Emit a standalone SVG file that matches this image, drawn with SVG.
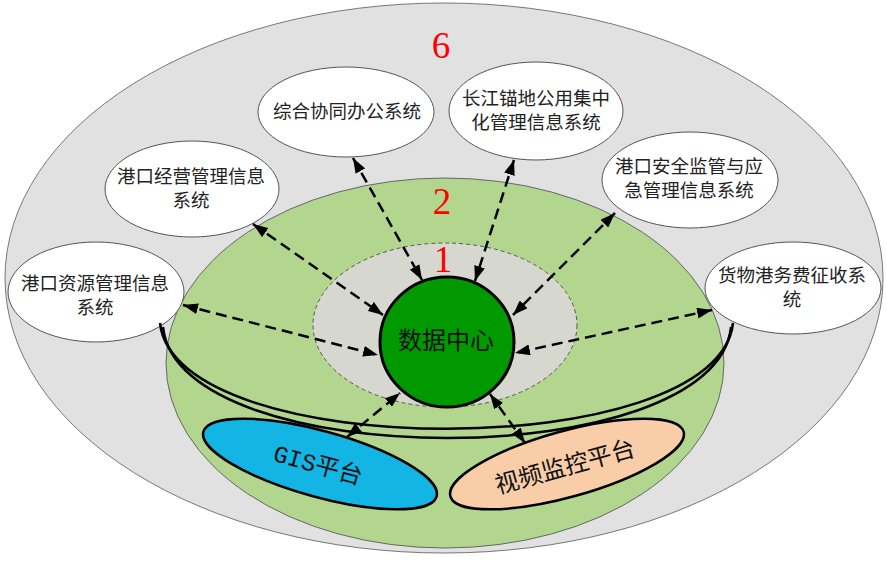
<svg xmlns="http://www.w3.org/2000/svg" width="887" height="568" viewBox="0 0 887 568">
<defs>
<marker id="ah" markerUnits="userSpaceOnUse" markerWidth="15" markerHeight="11" refX="15" refY="5.5" orient="auto-start-reverse" viewBox="0 0 15 11">
<path d="M0,0 L15,5.5 L0,11 z" fill="#000"/>
</marker>
</defs>
<style>
.node{fill:#fff;stroke:#555;stroke-width:1}
.nt{font-family:"Noto Sans CJK SC","Liberation Serif",serif;font-size:18.5px;fill:#222;text-anchor:middle}
.num{font-family:"Liberation Serif",serif;font-size:37px;fill:#ff0000;text-anchor:middle}
.conn{stroke:#000;stroke-width:2.5;stroke-dasharray:11 6;fill:none;marker-start:url(#ah);marker-end:url(#ah)}
.arc{fill:none;stroke:#000;stroke-width:2.5}
</style>
<g id="layer6">
<ellipse cx="444" cy="278" rx="439" ry="275" fill="#e1e1e1" stroke="#777" stroke-width="1"/>
<text class="num" x="441" y="58">6</text>
</g>
<g id="layer2">
<ellipse cx="445" cy="363" rx="279" ry="185" fill="#b3d68f" stroke="#666" stroke-width="1"/>
<text class="num" x="442" y="214">2</text>
</g>
<g id="layer1">
<ellipse cx="445" cy="325" rx="132" ry="82" fill="#d6d8d0" stroke="#555" stroke-width="1" stroke-dasharray="4 3"/>
<text class="num" x="443" y="272">1</text>
</g>
<g id="node-resource">
<ellipse class="node" cx="96" cy="292" rx="88" ry="50"/>
<text class="nt" x="95" y="290">港口资源管理信息</text>
<text class="nt" x="95" y="314">系统</text>
</g>
<g id="node-operation">
<ellipse class="node" cx="192" cy="189" rx="87" ry="48"/>
<text class="nt" x="191" y="183">港口经营管理信息</text>
<text class="nt" x="191" y="207">系统</text>
</g>
<g id="node-office">
<ellipse class="node" cx="346" cy="112" rx="88" ry="45"/>
<text class="nt" x="347" y="118">综合协同办公系统</text>
</g>
<g id="node-anchorage">
<ellipse class="node" cx="536" cy="111" rx="87" ry="49"/>
<text class="nt" x="536" y="105">长江锚地公用集中</text>
<text class="nt" x="536" y="129">化管理信息系统</text>
</g>
<g id="node-safety">
<ellipse class="node" cx="690" cy="180" rx="88" ry="48"/>
<text class="nt" x="689" y="173">港口安全监管与应</text>
<text class="nt" x="689" y="197">急管理信息系统</text>
</g>
<g id="node-fee">
<ellipse class="node" cx="793" cy="288" rx="88" ry="46"/>
<text class="nt" x="792" y="282">货物港务费征收系</text>
<text class="nt" x="792" y="306">统</text>
</g>
<g id="bus">
<path class="arc" d="M160,323 C175,464 718,464 733,323"/>
<path class="arc" d="M163,327 C178,475 716,475 731,327"/>
</g>
<g id="node-gis">
<ellipse cx="0" cy="0" rx="121" ry="33" transform="translate(320,464) rotate(15.5)" fill="#13b5e4" stroke="#000" stroke-width="2.5"/>
<text x="0" y="8" transform="translate(318,465) rotate(15.5)" style="font-family:'Liberation Mono','Noto Sans CJK SC',monospace;font-size:24px;fill:#111;text-anchor:middle">GIS平台</text>
</g>
<g id="node-video">
<ellipse cx="0" cy="0" rx="121" ry="33" transform="translate(567,464) rotate(-15.5)" fill="#f9cda8" stroke="#000" stroke-width="2.5"/>
<text x="0" y="8" transform="translate(565,467) rotate(-15.5)" style="font-family:'Noto Sans CJK SC',sans-serif;font-size:24px;fill:#111;text-anchor:middle">视频监控平台</text>
</g>
<g id="connectors">
<line class="conn" x1="183" y1="305" x2="378" y2="355"/>
<line class="conn" x1="253" y1="224" x2="383" y2="315"/>
<line class="conn" x1="353" y1="158" x2="422" y2="280"/>
<line class="conn" x1="514" y1="160" x2="475" y2="281"/>
<line class="conn" x1="615" y1="213" x2="513" y2="315"/>
<line class="conn" x1="712" y1="310" x2="515" y2="353"/>
<line class="conn" x1="347" y1="437" x2="400" y2="393"/>
<line class="conn" x1="525" y1="443" x2="490" y2="394"/>
</g>
<g id="node-datacenter">
<ellipse cx="447" cy="342" rx="67" ry="65" fill="#009900" stroke="#000" stroke-width="3"/>
<text x="446" y="349" style="font-family:'Noto Sans CJK SC',sans-serif;font-size:24px;fill:#111;text-anchor:middle">数据中心</text>
</g>
</svg>
